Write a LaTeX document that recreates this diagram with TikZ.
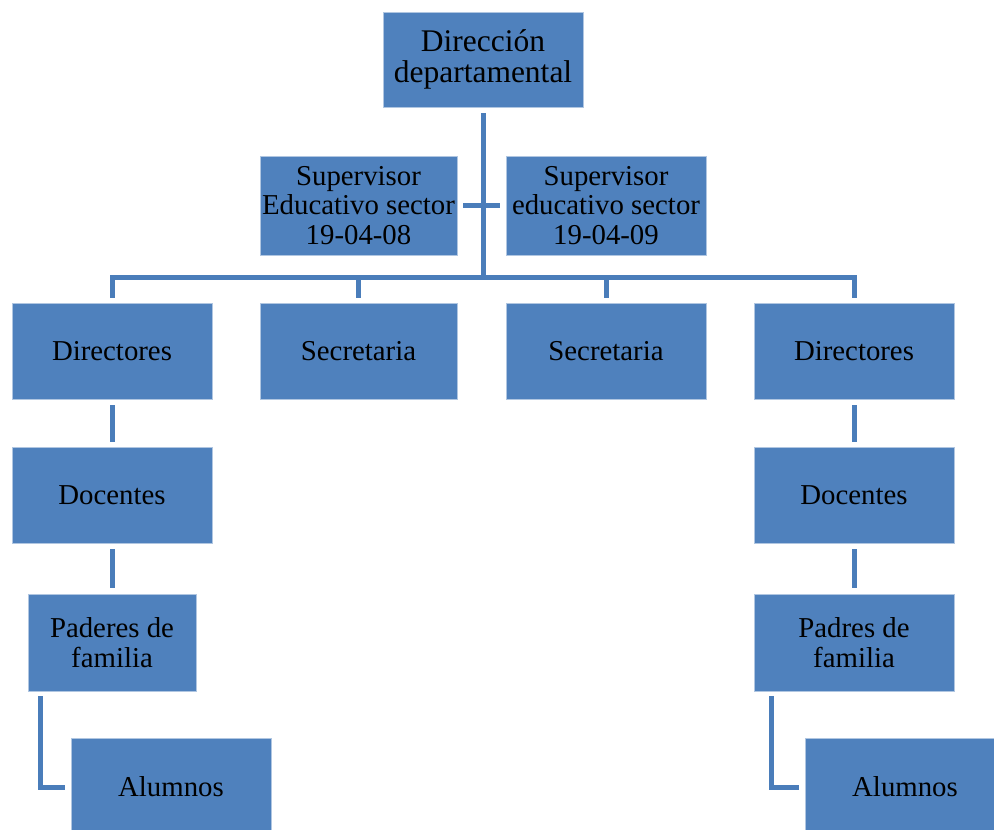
\documentclass[tikz,border=0pt]{standalone}
\usepackage{fontspec}
\setmainfont{Liberation Serif}
\definecolor{boxblue}{HTML}{4F81BD}
\definecolor{lineblue}{HTML}{4A7DBA}
\begin{document}
\begin{tikzpicture}[x=1pt,y=-1pt,
  box/.style={rectangle, fill=boxblue, draw=white!55!boxblue, line width=0.8pt,
    inner sep=0pt, align=center, text=black, font=\fontsize{28.8}{29.5}\selectfont},
  conn/.style={draw=lineblue, line width=5pt}]
\useasboundingbox (0,0) rectangle (994,830);
\clip (0,0) rectangle (994,830);
\node[box, minimum width=200pt, minimum height=95pt, font=\fontsize{31.5}{31}\selectfont] (dir) at (483,59.5) {Dirección\\departamental};
\node[box, minimum width=197pt, minimum height=99pt] (supL) at (358.5,205.5) {Supervisor\\Educativo sector\\19-04-08};
\node[box, minimum width=200pt, minimum height=99pt] (supR) at (606,205.5) {Supervisor\\educativo sector\\19-04-09};
\node[box, minimum width=200pt, minimum height=96pt] (dirL) at (112,351) {Directores};
\node[box, minimum width=197pt, minimum height=96pt] (secL) at (358.5,351) {Secretaria};
\node[box, minimum width=200pt, minimum height=96pt] (secR) at (606,351) {Secretaria};
\node[box, minimum width=200pt, minimum height=96pt] (dirR) at (854,351) {Directores};
\node[box, minimum width=200pt, minimum height=96pt] (docL) at (112,495) {Docentes};
\node[box, minimum width=200pt, minimum height=96pt] (docR) at (854,495) {Docentes};
\node[box, minimum width=168pt, minimum height=97pt] (padL) at (112,642.5) {Paderes de\\familia};
\node[box, minimum width=200pt, minimum height=97pt] (padR) at (854,642.5) {Padres de\\familia};
\node[box, minimum width=200pt, minimum height=98pt] (aluL) at (171,787) {Alumnos};
\node[box, minimum width=200pt, minimum height=98pt] (aluR) at (905,787) {Alumnos};
\coordinate (bus) at (483,277);
\draw[conn] ([yshift=-6pt]dir.south) -- ([yshift=-2.5pt]bus);
\draw[conn] ([xshift=6pt]supL.east) -- ([xshift=-6pt]supR.west);
\draw[conn] ([yshift=5pt]dirL.north) |- (bus) -| ([yshift=5pt]dirR.north);
\draw[conn] ([yshift=5pt]secL.north) -- (secL.north |- bus);
\draw[conn] ([yshift=5pt]secR.north) -- (secR.north |- bus);
\draw[conn] ([yshift=-6pt]dirL.south) -- ([yshift=5pt]docL.north);
\draw[conn] ([yshift=-6pt]dirR.south) -- ([yshift=5pt]docR.north);
\draw[conn] ([yshift=-6pt]docL.south) -- ([yshift=6pt]padL.north);
\draw[conn] ([yshift=-6pt]docR.south) -- ([yshift=6pt]padR.north);
\draw[conn] ([xshift=13pt,yshift=-5pt]padL.south west) |- ([xshift=-6pt]aluL.west);
\draw[conn] ([xshift=18pt,yshift=-5pt]padR.south west) |- ([xshift=-6pt]aluR.west);
\end{tikzpicture}
\end{document}
